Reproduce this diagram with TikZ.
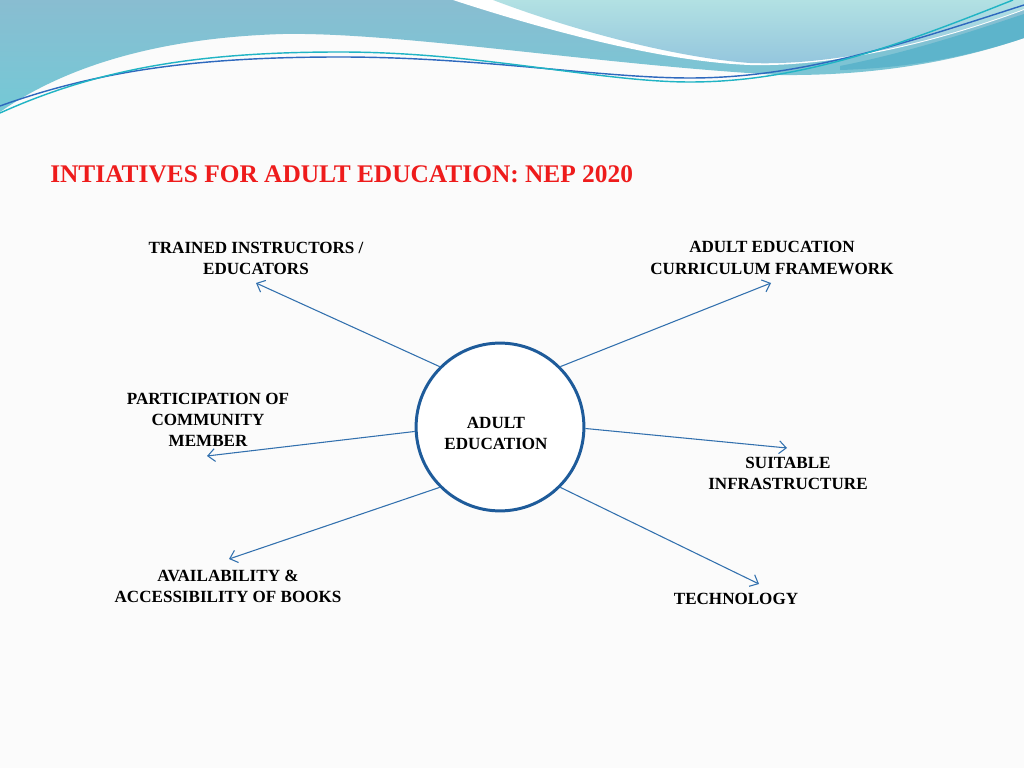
\documentclass[tikz,border=0pt]{standalone}
\usepackage{fontspec}
\setmainfont{Liberation Serif}
\usepackage{xcolor}
\usepackage{tikz}
\usetikzlibrary{arrows.meta}
\definecolor{pagebg}{HTML}{FBFBFB}
\definecolor{wavetop}{HTML}{89BDD1}
\definecolor{wavelow}{HTML}{74C9D6}
\definecolor{palewave}{HTML}{B2E1E3}
\definecolor{palelow}{HTML}{93C5DD}
\definecolor{darkwave}{HTML}{5DB4CB}
\definecolor{lineblue}{HTML}{2E69BE}
\definecolor{lineteal}{HTML}{20B4C4}
\definecolor{ringblue}{HTML}{1E5B9A}
\definecolor{arrowblue}{HTML}{3270AE}
\definecolor{titlered}{HTML}{EE1C1C}

\tikzset{
	lbl/.style={align=center,font=\fontsize{12}{14.8}\selectfont\bfseries,inner sep=0pt},
	spoke/.style={draw=arrowblue,line width=0.75pt,-{Straight Barb[length=5pt,width=9pt]}}
}

\begin{document}
\begin{tikzpicture}[x=0.703125pt,y=-0.703125pt]
				\useasboundingbox (0,0) rectangle (1024,768);
				\fill[pagebg] (0,0) rectangle (1024,768);
				% wave across the top
				\shade[top color=wavetop,bottom color=wavelow] (0,0) -- (1024,0) -- (1024,38) .. controls (960,60) and (880,76) .. (780,75) .. controls (600,65) and (400,32) .. (283,34) .. controls (150,38) and (60,70) .. (0,112) -- cycle;
				\fill[darkwave] (840,66) .. controls (910,52) and (970,32) .. (1024,14) -- (1024,38) .. controls (970,56) and (910,68) .. (840,70) -- cycle;
				\fill[white] (453,0) .. controls (560,35) and (670,62) .. (750,65) .. controls (830,67) and (930,45) .. (1024,10) -- (1024,0) -- cycle;
				\shade[top color=palewave,bottom color=palelow] (493,0) .. controls (580,33) and (680,58) .. (750,63) .. controls (830,66) and (930,44) .. (1024,9) -- (1024,0) -- cycle;
				\draw[lineblue,line width=1pt] (0,106) .. controls (100,70) and (200,57) .. (340,57) .. controls (480,57) and (600,78) .. (690,78) .. controls (800,78) and (900,45) .. (1024,5);
				\draw[lineteal,line width=1pt] (0,113) .. controls (100,68) and (200,52) .. (340,52) .. controls (480,52) and (600,82) .. (690,82) .. controls (800,82) and (900,45) .. (1013,0);

				\node[anchor=west,inner sep=0pt,text=titlered,font=\fontsize{17.85}{20}\selectfont\bfseries] (title) at (50,174) {INTIATIVES FOR ADULT EDUCATION: NEP 2020};

				\node[circle,draw=ringblue,line width=2.1pt,fill=white,minimum size=118pt] (ae) at (500,427) {};
				\node[lbl] (aetext) at (496,433) {ADULT\\EDUCATION};

				\node[lbl] (ti) at (256,258) {TRAINED INSTRUCTORS /\\EDUCATORS};
				\node[lbl] (cf) at (772,258) {ADULT EDUCATION\\CURRICULUM FRAMEWORK};
				\node[lbl] (pc) at (208,420) {PARTICIPATION OF\\COMMUNITY\\MEMBER};
				\node[lbl] (si) at (788,473) {SUITABLE\\INFRASTRUCTURE};
				\node[lbl] (ab) at (228,586) {AVAILABILITY \&\\ACCESSIBILITY OF BOOKS};
				\node[lbl] (te) at (736,599) {TECHNOLOGY};

				\coordinate (tiend) at (256,283);%trained instructors
				\coordinate (cfend) at (771,283);%curriculum framework
				\coordinate (pcend) at (207,456);%community
				\coordinate (siend) at (787,448);%infrastructure
				\coordinate (abend) at (229,559);%books
				\coordinate (teend) at (759,584);%technology

				\draw[spoke] (ae.135) -- (tiend);
				\draw[spoke] (ae.45) -- (cfend);
				\draw[spoke] (ae.183) -- (pcend);
				\draw[spoke] (ae.359) -- (siend);
				\draw[spoke] (ae.225) -- (abend);
				\draw[spoke] (ae.315) -- (teend);
			\end{tikzpicture}
\end{document}
